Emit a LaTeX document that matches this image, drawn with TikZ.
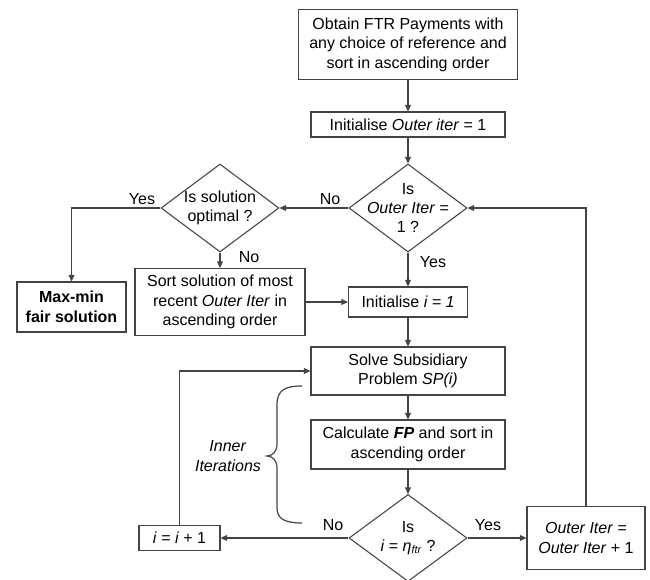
\documentclass[tikz,border=0pt]{standalone}
\usepackage{fontspec}
\setmainfont{Liberation Sans}
\usetikzlibrary{shapes.geometric,arrows.meta}
\definecolor{lncol}{RGB}{68,68,68}
\begin{document}
\begin{tikzpicture}[x=0.75pt,y=0.75pt,yscale=-1,xscale=1,
  every node/.style={font=\fontsize{12}{14.6}\selectfont, align=center},
  procbox/.style={draw=lncol, line width=0.8pt, inner sep=0pt},
  decision/.style={draw=lncol, line width=0.8pt, shape=diamond, inner sep=0pt, minimum width=88.5pt, minimum height=66pt},
  flow/.style={draw=lncol, line width=0.8pt, -{Triangle[length=5pt,width=4.5pt]}}]
%set diagram left start at 0, and has height of 580
\useasboundingbox (0,0) rectangle (650,580);

%Shape: Rectangle [id:obtain]
\node[procbox, minimum width=164.25pt, minimum height=52.5pt] (obtain) at (408,44.5) {Obtain FTR Payments with\\any choice of reference and\\sort in ascending order};
%Shape: Rectangle [id:initouter]
\node[procbox, minimum width=145.5pt, minimum height=18.75pt] (initouter) at (408,124.5) {Initialise \textit{Outer iter} = 1};
%Shape: Diamond [id:isone]
\node[decision] (isone) at (408,208) {};
\node (isonetxt) at (isone) {Is\\\textit{Outer Iter} =\\1 ?};
%Shape: Diamond [id:isopt]
\node[decision] (isopt) at (220,208) {};
\node (isopttxt) at (isopt) {Is solution\\optimal ?};
%Shape: Rectangle [id:maxmin]
\node[procbox, minimum width=81.75pt, minimum height=37.5pt] (maxmin) at (71.5,307) {\textbf{Max-min}\\\textbf{fair solution}};
%Shape: Rectangle [id:sortsol]
\node[procbox, minimum width=127.5pt, minimum height=50.25pt] (sortsol) at (220,302) {Sort solution of most\\recent \textit{Outer Iter} in\\ascending order};
%Shape: Rectangle [id:initi]
\node[procbox, minimum width=89.25pt, minimum height=22.5pt] (initi) at (408,302) {Initialise \textit{i = 1}};
%Shape: Rectangle [id:solve]
\node[procbox, minimum width=145.5pt, minimum height=36pt] (solve) at (408,371) {Solve Subsidiary\\Problem \textit{SP(i)}};
%Shape: Rectangle [id:calc]
\node[procbox, minimum width=145.5pt, minimum height=36.75pt] (calc) at (408,444.5) {Calculate \textbf{\textit{FP}} and sort in\\ascending order};
%Shape: Diamond [id:isend]
\node[decision, minimum height=65.25pt] (isend) at (408,538) {};
\node (isendtxt) at (isend) {Is\\\textit{i} = \textit{η}\textsubscript{\textit{ftr}} ?};
%Shape: Rectangle [id:incr]
\node[procbox, minimum width=60.75pt, minimum height=18.75pt] (incr) at (179.5,538) {\textit{i} = \textit{i} + 1};
%Shape: Rectangle [id:nextouter]
\node[procbox, minimum width=88.5pt, minimum height=47.25pt] (nextouter) at (586,538) {\textit{Outer Iter} =\\\textit{Outer Iter} + 1};

%Straight Lines
\draw[flow] (obtain) -- (initouter);
\draw[flow] (initouter) -- (isone);
\draw[flow] (isone.west) -- (isopt.east);
\draw[flow] (isopt.west) -| (maxmin.north);
\draw[flow] (isopt.south) -- (sortsol.north);
\draw[flow] (isone.south) -- (initi.north);
\draw[flow] (sortsol.east) -- (initi.west);
\draw[flow] (initi) -- (solve);
\draw[flow] (solve) -- (calc);
\draw[flow] (calc) -- (isend);
\draw[flow] (isend.west) -- (incr.east);
\draw[flow] (isend.east) -- (nextouter.west);
\draw[flow] (nextouter.north) |- (isone.east);
\draw[flow] (incr.north) |- (solve.west);

%Shape: Brace
\draw[lncol, line width=0.9pt] (302,386) .. controls (285,386) and (277,390) .. (277,405) -- (277,444) .. controls (277,452) and (272,456) .. (267,456) .. controls (272,456) and (277,460) .. (277,468) -- (277,508) .. controls (277,519) and (285,523) .. (302,523);

% Text Node
\node (inneriter) at (228,456) {\textit{Inner}\\\textit{Iterations}};
% Text Node
\node (lblnoA) at (330,199) {No};
% Text Node
\node (lblyesA) at (142,199) {Yes};
% Text Node
\node (lblnoB) at (249,257) {No};
% Text Node
\node (lblyesB) at (433,262) {Yes};
% Text Node
\node (lblnoC) at (333,525) {No};
% Text Node
\node (lblyesC) at (488,525) {Yes};

\end{tikzpicture}
\end{document}
